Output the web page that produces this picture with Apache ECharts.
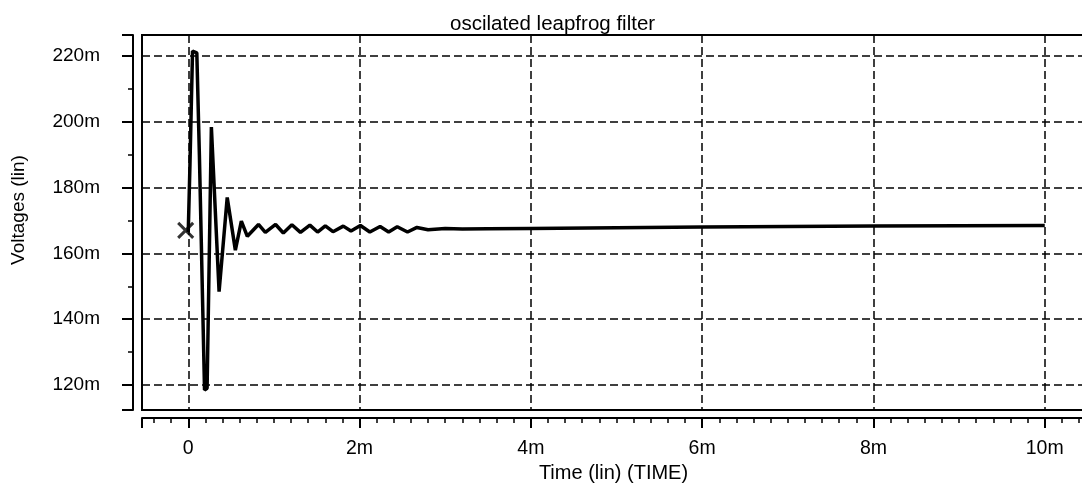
<!DOCTYPE html>
<html>
<head>
<meta charset="utf-8">
<script src="https://cdn.jsdelivr.net/npm/echarts/dist/echarts.min.js"></script>
<style>
  html, body { margin: 0; padding: 0; background: #fff; }
  #chart { width: 1082px; height: 493px; }
</style>
</head>
<body>
<div id="chart"></div>
<script>
// Time in ms, voltage in mV
const timeMs = [0, 0.02, 0.05, 0.10, 0.13, 0.19, 0.22, 0.27, 0.36, 0.455, 0.55, 0.62, 0.69, 0.82, 0.90, 1.02, 1.11, 1.21, 1.31, 1.42, 1.51, 1.60, 1.69, 1.81, 1.90, 2.01, 2.12, 2.24, 2.34, 2.44, 2.56, 2.67, 2.80, 3.0, 3.2, 3.5, 4, 5, 6, 7, 8, 9, 10];
const voltageMv = [166.5, 187, 221.5, 221, 190, 118.5, 119, 198.4, 148.4, 177, 161, 169.8, 165.2, 168.8, 166.4, 168.8, 166.2, 168.7, 166.4, 168.6, 166.5, 168.4, 166.6, 168.3, 166.8, 168.5, 166.5, 168.2, 166.5, 168.1, 166.5, 167.9, 167.2, 167.6, 167.4, 167.5, 167.6, 167.8, 168.0, 168.2, 168.3, 168.4, 168.5];
const startMarker = [[-0.03, 167]];
const xTickValues = [0, 2, 4, 6, 8, 10];
const yTickValues = [120, 140, 160, 180, 200, 220];
const titleText = 'oscilated leapfrog filter';
const xName = 'Time (lin) (TIME)';
const yName = 'Voltages (lin)';

const FONT = '"Liberation Sans", Arial, sans-serif';
const isIn = (arr, v) => arr.some(t => Math.abs(t - v) < 1e-6);

const chart = echarts.init(document.getElementById('chart'), null, { renderer: 'canvas' });
chart.setOption({
  animation: false,
  backgroundColor: '#fff',
  title: {
    text: titleText,
    left: 445, top: 9,
    textStyle: { fontFamily: FONT, fontSize: 20.5, fontWeight: 'normal', color: '#000' }
  },
  graphic: [{
    type: 'text',
    x: 19, y: 210,
    rotation: Math.PI / 2,
    style: { text: yName, font: '19px ' + FONT, fill: '#000', align: 'center', verticalAlign: 'middle' }
  }],
  grid: {
    left: 142, top: 35, right: -3, bottom: 83,
    containLabel: false, outerBoundsMode: 'none',
    show: true, borderColor: '#000', borderWidth: 2, backgroundColor: 'transparent'
  },
  xAxis: {
    type: 'value', min: -0.54, max: 10.47, splitNumber: 5,
    offset: 8,
    name: xName, nameLocation: 'middle', nameGap: 44,
    nameTextStyle: { fontFamily: FONT, fontSize: 20, color: '#000' },
    axisLine: { show: true, onZero: false, lineStyle: { color: '#000', width: 2 } },
    axisTick: { show: true, length: 10, lineStyle: { color: '#000', width: 2 } },
    minorTick: { show: true, splitNumber: 10, length: 5, lineStyle: { color: '#000', width: 1.5 } },
    axisLabel: {
      margin: 21, fontFamily: FONT, fontSize: 19.5, color: '#000',
      formatter: v => isIn(xTickValues, v) ? (Math.abs(v) < 1e-9 ? '0' : Math.round(v) + 'm') : ''
    },
    splitLine: { show: true, lineStyle: { color: '#000', width: 1.5, type: [8, 4] } }
  },
  yAxis: {
    type: 'value', min: 112.4, max: 226.4, splitNumber: 5,
    offset: 9,
    axisLine: { show: true, onZero: false, lineStyle: { color: '#000', width: 2 } },
    axisTick: { show: true, length: 11, lineStyle: { color: '#000', width: 2 } },
    minorTick: { show: true, splitNumber: 2, length: 5, lineStyle: { color: '#000', width: 1.5 } },
    axisLabel: {
      margin: 33, fontFamily: FONT, fontSize: 19, color: '#000',
      formatter: v => isIn(yTickValues, v) ? Math.round(v) + 'm' : ''
    },
    splitLine: { show: true, lineStyle: { color: '#000', width: 1.5, type: [8, 4] } }
  },
  series: [{
    type: 'line',
    data: timeMs.map((t, i) => [t, voltageMv[i]]),
    showSymbol: false,
    lineStyle: { color: '#000', width: 3.5 },
    z: 3
  }, {
    type: 'scatter',
    data: startMarker,
    symbol: 'path://M0,0L10,10M10,0L0,10',
    symbolSize: 15,
    itemStyle: { color: 'transparent', borderColor: '#000', borderWidth: 3 },
    z: 4
  }]
});
</script>
</body>
</html>
